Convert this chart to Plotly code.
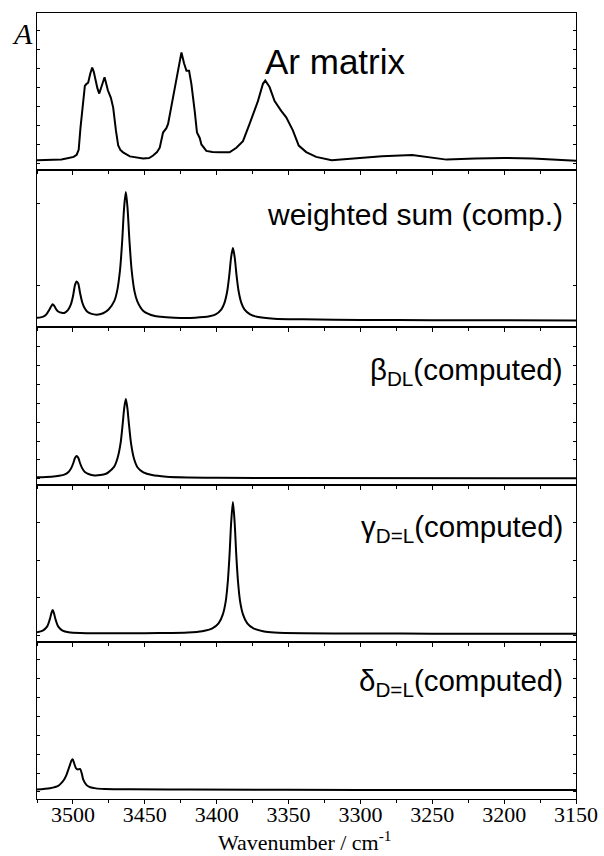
import plotly.graph_objects as go
from plotly.subplots import make_subplots

# ---------------- data (wavenumber / cm-1, absorbance arb. units) ----------------
ar_wn = [3525, 3515, 3508, 3503, 3499.5, 3497.4, 3496, 3494.7, 3492.8, 3491.7, 3490.5, 3489.4,
         3488, 3486.6, 3485.5, 3484.4, 3483, 3481.7, 3480, 3478, 3477, 3475.7, 3473.6, 3472,
         3470.1, 3468.5, 3467, 3465.1, 3460.4, 3455, 3451.2, 3447, 3444.2, 3441.5, 3439.6,
         3437.3, 3435, 3433.8, 3430.3, 3428, 3426.4, 3424.5, 3422.7, 3421, 3419.2, 3417.6,
         3415.3, 3413.7, 3411.8, 3410.6, 3407.2, 3403, 3398, 3391, 3386.3, 3381.7, 3377.1,
         3374.8, 3371.3, 3367.8, 3366.2, 3363.2, 3359.7, 3355.1, 3351.6, 3347, 3342.9, 3337.7,
         3330.8, 3320, 3300, 3285, 3264, 3250, 3240, 3220, 3200, 3180, 3165, 3150]
ar_abs = [0.005, 0.008, 0.012, 0.025, 0.035, 0.055, 0.10, 0.31, 0.58, 0.69, 0.71, 0.72,
          0.80, 0.86, 0.82, 0.74, 0.67, 0.62, 0.68, 0.77, 0.72, 0.65, 0.58, 0.49,
          0.28, 0.14, 0.10, 0.077, 0.04, 0.025, 0.02, 0.025, 0.048, 0.08, 0.12,
          0.26, 0.30, 0.34, 0.58, 0.77, 0.88, 1.00, 0.90, 0.83, 0.83, 0.71,
          0.46, 0.26, 0.21, 0.15, 0.09, 0.08, 0.077, 0.077, 0.12, 0.18, 0.34,
          0.42, 0.55, 0.71, 0.74, 0.68, 0.55, 0.46, 0.40, 0.28, 0.14, 0.08,
          0.035, 0.005, 0.025, 0.04, 0.053, 0.03, 0.01, 0.02, 0.025, 0.02, 0.01, 0.0]

sum_wn = [3525, 3522.5, 3520, 3518.2, 3516.7, 3515.2, 3514.1, 3513, 3511.5, 3510, 3507.8, 3506,
          3503.5, 3501.5, 3500, 3498.5, 3497.4, 3496.3, 3495, 3493.5, 3492, 3490, 3487, 3483.5,
          3479, 3475.2, 3471.2, 3469.2, 3467.2, 3465.7, 3464.4, 3463.2, 3462.0, 3460.7, 3459.2,
          3457.2, 3455.2, 3451.2, 3443, 3435, 3425, 3415, 3405, 3400.7, 3396.7, 3394.7, 3392.7,
          3391.2, 3389.9, 3388.7, 3387.5, 3386.2, 3384.7, 3382.7, 3380.7, 3376.7, 3372, 3360,
          3340, 3300, 3250, 3200, 3150]
sum_abs = [0.025, 0.028, 0.04, 0.061, 0.092, 0.128, 0.148, 0.134, 0.10, 0.08, 0.07, 0.069,
           0.094, 0.145, 0.22, 0.33, 0.36, 0.34, 0.25, 0.165, 0.116, 0.08, 0.06, 0.053,
           0.066, 0.10, 0.18, 0.275, 0.47, 0.74, 1.04, 1.185, 1.035, 0.74, 0.47,
           0.27, 0.175, 0.09, 0.04, 0.03, 0.023, 0.025, 0.038, 0.055, 0.102, 0.157, 0.267,
           0.42, 0.586, 0.668, 0.586, 0.42, 0.267, 0.157, 0.102, 0.055, 0.034, 0.016,
           0.01, 0.004, 0.002, 0.001, 0.0]

beta_wn = [3525, 3515, 3509.6, 3505.6, 3503.1, 3501.1, 3499.6, 3498.5, 3497.4, 3496.3, 3495.2,
           3493.7, 3491.7, 3489.2, 3485, 3481, 3477, 3475.4, 3471.4, 3468.9, 3466.9, 3465.4,
           3464.3, 3463.2, 3462.1, 3461.0, 3459.5, 3457.5, 3455, 3451, 3445, 3435, 3420, 3400,
           3350, 3150]
beta_abs = [0.01, 0.015, 0.023, 0.036, 0.058, 0.096, 0.146, 0.19, 0.207, 0.19, 0.146,
            0.096, 0.058, 0.04, 0.027, 0.03, 0.042, 0.055, 0.105, 0.19, 0.32, 0.50,
            0.65, 0.733, 0.645, 0.495, 0.315, 0.18, 0.10, 0.055, 0.03, 0.015, 0.008, 0.005,
            0.002, 0.0]

gamma_wn = [3525, 3521, 3518, 3516.1, 3515, 3514.1, 3513.2, 3512.1, 3510.2, 3507.2, 3503, 3495,
            3480, 3460, 3440, 3420, 3410, 3403, 3398.7, 3395.7, 3393.7, 3392.2, 3391, 3389.9,
            3388.7, 3387.5, 3386.4, 3385.2, 3383.7, 3381.7, 3378.7, 3374.4, 3367, 3360, 3340,
            3300, 3250, 3150]
gamma_abs = [0.015, 0.03, 0.066, 0.133, 0.19, 0.22, 0.19, 0.133, 0.066, 0.03, 0.015, 0.008,
             0.006, 0.006, 0.007, 0.012, 0.024, 0.05, 0.096, 0.18, 0.30, 0.49, 0.74, 1.03,
             1.216, 1.03, 0.74, 0.49, 0.30, 0.18, 0.096, 0.05, 0.022, 0.013, 0.006,
             0.003, 0.001, 0.0]

delta_wn = [3525, 3516, 3510, 3507.8, 3506, 3504.5, 3503.3, 3502, 3501, 3500.2, 3499, 3497.8,
            3496.5, 3495.1, 3493.8, 3492.8, 3490.5, 3488, 3484, 3478, 3460, 3420, 3300, 3150]
delta_abs = [0.005, 0.016, 0.04, 0.068, 0.10, 0.14, 0.185, 0.235, 0.272, 0.283, 0.24, 0.20,
             0.19, 0.194, 0.15, 0.095, 0.045, 0.025, 0.015, 0.01, 0.006, 0.004, 0.001, 0.0]

x_tick_values = [3500, 3450, 3400, 3350, 3300, 3250, 3200, 3150]
x_tick_labels = ["3500", "3450", "3400", "3350", "3300", "3250", "3200", "3150"]
x_title = "Wavenumber / cm<sup>-1</sup>"

panel_labels = ["Ar matrix",
                "weighted sum (comp.)",
                "\u03b2<sub>DL</sub>(computed)",
                "\u03b3<sub>D=L</sub>(computed)",
                "\u03b4<sub>D=L</sub>(computed)"]

series = [(ar_wn, ar_abs, "linear"), (sum_wn, sum_abs, "spline"), (beta_wn, beta_abs, "spline"),
          (gamma_wn, gamma_abs, "spline"), (delta_wn, delta_abs, "spline")]

# ---------------- styling ----------------
W, H = 604, 856
ML, MR, MT, MB = 37, 28, 13, 57
PX = 108.3  # pixels per absorbance unit
PANEL = (H - MT - MB) / 5.0
base_off = [9.5, 7.0, 6.3, 8.0, 9.0]          # px of zero line above panel bottom
tick_first = [16.5, 34.5, 18.4, 36.0, 17.0]    # px of first y tick above zero
tick_step = [18.9, 82.5, 18.9, 37.5, 18.9]
serif = "Liberation Serif, Times New Roman, serif"
sans = "Liberation Sans, Arial, sans-serif"

fig = make_subplots(rows=5, cols=1, vertical_spacing=0)

for i, (xs, ys, shp) in enumerate(series):
    line = dict(color="black", width=2)
    if shp == "spline":
        line.update(shape="spline", smoothing=0.8)
    fig.add_trace(go.Scatter(x=xs, y=ys, mode="lines", line=line, hoverinfo="skip"),
                  row=i + 1, col=1)

for i in range(5):
    r = i + 1
    fig.update_xaxes(row=r, col=1, range=[3525, 3150], tickmode="array",
                     tickvals=x_tick_values, ticktext=x_tick_labels, automargin=False,
                     ticks="outside", ticklen=4, tickwidth=1, tickcolor="black",
                     showline=True, linecolor="black", linewidth=1, mirror=True,
                     showgrid=False, zeroline=False, showticklabels=(r == 5),
                     tickfont=dict(family=serif, size=22, color="black"),
                     minor=dict(ticks="outside", tick0=3500, dtick=25, ticklen=3,
                                tickwidth=1, tickcolor="black", showgrid=False))
    b = base_off[i]
    fig.update_yaxes(row=r, col=1, range=[-b / PX, (PANEL - b) / PX], automargin=False,
                     tickmode="linear", tick0=tick_first[i] / PX, dtick=tick_step[i] / PX,
                     ticks="inside", ticklen=3, tickwidth=1, tickcolor="black",
                     showline=True, linecolor="black", linewidth=1, mirror="ticks",
                     showgrid=False, zeroline=False, showticklabels=False)

fig.update_xaxes(row=5, col=1, ticklabelstandoff=-8)

def px_to_paper(xp, yp):
    return (xp - ML) / (W - ML - MR), (H - MB - yp) / (H - MT - MB)

label_pos = [(263, 62, "left", 35), (565, 214, "right", 30), (565, 371, "right", 29.5),
             (565, 528, "right", 29.5), (565, 682, "right", 29.5)]
for txt, (xp, yp, anc, fs) in zip(panel_labels, label_pos):
    xx, yy = px_to_paper(xp, yp)
    fig.add_annotation(x=xx, y=yy, xref="paper", yref="paper", text=txt, showarrow=False,
                       xanchor=anc, yanchor="middle",
                       font=dict(family=sans, size=fs, color="black"))

tx, ty = px_to_paper(305, 841)
fig.add_annotation(x=tx, y=ty, xref="paper", yref="paper", text=x_title, showarrow=False,
                   xanchor="center", yanchor="middle", borderpad=0,
                   font=dict(family=serif, size=22, color="black"))

ax, ay = px_to_paper(22, 34)
fig.add_annotation(x=ax, y=ay, xref="paper", yref="paper", text="<i>A</i>", showarrow=False,
                   xanchor="center", yanchor="middle",
                   font=dict(family=serif, size=30, color="black"))

fig.update_layout(width=W, height=H, margin=dict(l=ML, r=MR, t=MT, b=MB, autoexpand=False),
                  plot_bgcolor="white", paper_bgcolor="white", showlegend=False)

fig.write_html("out.html")
